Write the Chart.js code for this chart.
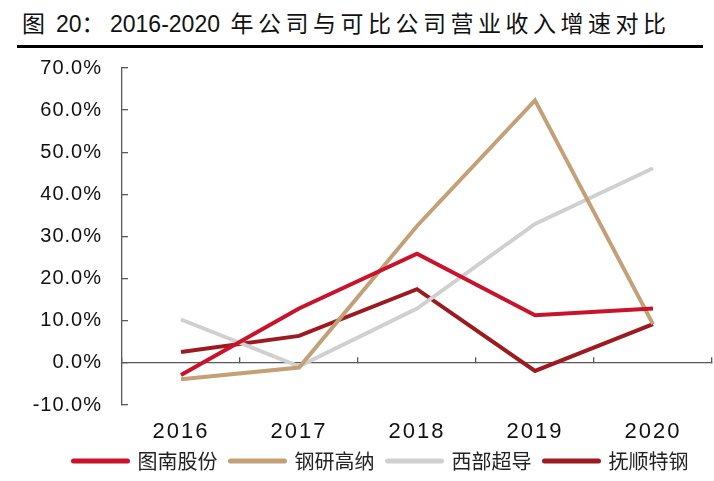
<!DOCTYPE html>
<html>
<head>
<meta charset="utf-8">
<script src="https://cdn.jsdelivr.net/npm/chart.js@4.4.1/dist/chart.umd.min.js"></script>
<style>
  body { margin: 0; width: 714px; height: 481px; background: #fff; position: relative; overflow: hidden; }
  #title { position: absolute; left: 22px; top: 7px; font: 23px "Liberation Sans", "Noto Sans CJK SC", sans-serif; color: #111; white-space: nowrap; line-height: 30px; }
  #title .cjk { font-family: "Noto Sans CJK SC", sans-serif; letter-spacing: 4.5px; }
  #rule { position: absolute; left: 17px; top: 45px; width: 686px; height: 3px; background: #000; }
  #box { position: absolute; left: 0; top: 30px; width: 714px; height: 451px; }
</style>
</head>
<body>
<div id="title"><span class="cjk">图</span> 20<span class="cjk" style="margin-right:1px">：</span>2016-2020 <span class="cjk" style="margin-left:4px">年公司与可比公司营业收入增速对比</span></div>
<div id="rule"></div>
<div id="box"><canvas id="chart"></canvas></div>
<script>
// 营业收入增速（%）
const years = ["2016", "2017", "2018", "2019", "2020"];
const tunan = [-2.9, 12.9, 25.9, 11.3, 12.9];     // 图南股份
const gangyan = [-3.9, -1.1, 32.5, 62.3, 9.2];    // 钢研高纳
const xibu = [10.3, -0.8, 12.9, 33.0, 46.2];      // 西部超导
const fushun = [2.6, 6.4, 17.5, -1.9, 9.2];       // 抚顺特钢
const yMin = -10;
const yMax = 70;
const yStep = 10;

const numFont = "'Liberation Sans', Arial, sans-serif";
const cjkFont = "'Noto Sans CJK SC', sans-serif";
const axisColor = "#595959";

function line(label, data, color) {
  return {
    label: label,
    data: data,
    borderColor: color,
    backgroundColor: color,
    borderWidth: 4,
    pointRadius: 0,
    tension: 0,
    fill: false,
  };
}

// tick labels: a bit of letter spacing, and no clipping to the axis box
function looseLabels(s, spacing) {
  if (s._loose) return;
  s._loose = true;
  s._computeLabelArea = () => undefined;
  const draw = s.drawLabels.bind(s);
  s.drawLabels = (area) => {
    s.ctx.save();
    s.ctx.letterSpacing = spacing;
    draw(area);
    s.ctx.restore();
  };
}

new Chart(document.getElementById("chart"), {
  type: "line",
  data: {
    labels: years,
    datasets: [
      line("图南股份", tunan, "#C8132B"),
      line("钢研高纳", gangyan, "#C4A078"),
      line("西部超导", xibu, "#D0D0D0"),
      line("抚顺特钢", fushun, "#9C1B20"),
    ],
  },
  options: {
    responsive: true,
    maintainAspectRatio: false,
    animation: false,
    layout: { padding: { left: 50, right: 2, top: 0, bottom: 0 } },
    plugins: {
      tooltip: { enabled: false },
      legend: {
        position: "bottom",
        maxHeight: 43,
        labels: {
          usePointStyle: true,
          pointStyle: "line",
          pointStyleWidth: 54,
          color: "#222",
          font: { family: cjkFont, size: 20 },
          padding: 13,
          generateLabels: (chart) =>
            Chart.defaults.plugins.legend.labels
              .generateLabels(chart)
              .map((l) => ({ ...l, lineWidth: 5, lineCap: "round" })),
        },
      },
    },
    scales: {
      x: {
        offset: true,
        grid: { display: false, drawTicks: false },
        border: { display: false },
        ticks: {
          color: "#111",
          font: { family: numFont, size: 22 },
          padding: 14,
          maxRotation: 0,
        },
        afterFit: (s) => {
          s.height = 33;
          looseLabels(s, "2px");
        },
      },
      x2: {
        type: "category",
        position: { y: 0 },
        offset: true,
        grid: { offset: true, drawOnChartArea: false, tickLength: -6, color: axisColor, lineWidth: 1.3 },
        border: { color: axisColor, width: 1.3 },
        ticks: { display: false },
      },
      y: {
        min: yMin,
        max: yMax,
        ticks: {
          stepSize: yStep,
          callback: (v) => v.toFixed(1) + "%",
          color: "#111",
          font: { family: numFont, size: 20 },
          padding: 26,
        },
        grid: { drawOnChartArea: false, tickLength: -6, color: axisColor, lineWidth: 1.3 },
        border: { color: axisColor, width: 1.3 },
        afterFit: (s) => {
          s.width = 72;
          looseLabels(s, "1px");
        },
      },
    },
  },
});
</script>
</body>
</html>
